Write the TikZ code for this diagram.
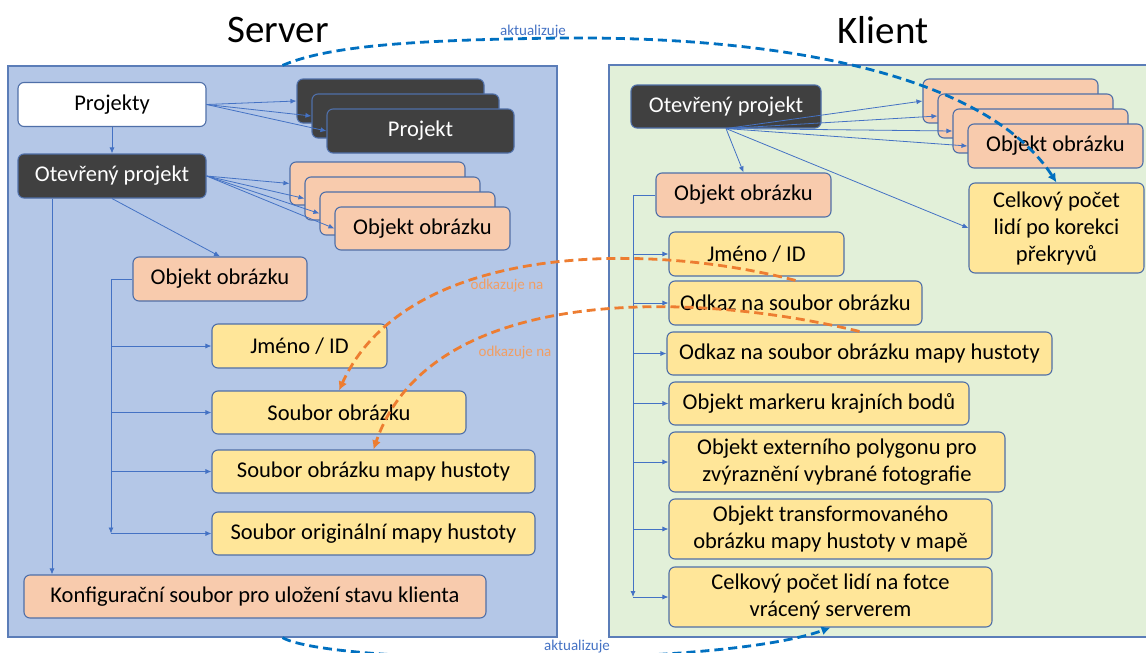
\documentclass[tikz,border=0pt]{standalone}
\usepackage{fontspec}
\setmainfont{Carlito}
\usetikzlibrary{arrows.meta}

\definecolor{srvfill}{HTML}{B4C7E7}
\definecolor{klifill}{HTML}{E2F0D9}
\definecolor{panelline}{HTML}{5B7DB8}
\definecolor{boxline}{HTML}{4F6FA8}
\definecolor{darkfill}{HTML}{404040}
\definecolor{objfill}{HTML}{F8CBAD}
\definecolor{itemfill}{HTML}{FFE699}
\definecolor{linkblue}{HTML}{4472C4}
\definecolor{updblue}{HTML}{0070C0}
\definecolor{reforange}{HTML}{ED7D31}

\tikzset{
  box/.style={draw=boxline, line width=1.1pt, rounded corners=6pt, inner sep=0pt,
    minimum height=44pt, align=center, font=\fontsize{22.5}{27}\selectfont},
  darkbox/.style={box, fill=darkfill, text=white},
  whitebox/.style={box, fill=white},
  objbox/.style={box, fill=objfill},
  itembox/.style={box, fill=itemfill},
  panel/.style={draw=panelline, line width=1.2pt, inner sep=0pt},
  title/.style={font=\fontsize{39}{44}\selectfont},
  link/.style={draw=linkblue, line width=0.8pt, -{Latex[length=6pt,width=5pt]}},
  trunk/.style={draw=linkblue, line width=0.8pt},
  updates/.style={draw=updblue, line width=2.8pt, dash pattern=on 9pt off 5pt,
    -{Latex[length=9pt,width=9pt]}},
  refers/.style={draw=reforange, line width=2.8pt, dash pattern=on 9pt off 5pt,
    -{Latex[length=9pt,width=9pt]}},
  updlabel/.style={text=linkblue, font=\fontsize{15}{17}\selectfont},
  reflabel/.style={text=reforange!75, font=\fontsize{15}{17}\selectfont},
}

\begin{document}
\begin{tikzpicture}[x=1pt, y=-1pt]
  \useasboundingbox (0,0) rectangle (1146,653);

  \node[panel, fill=srvfill, minimum width=549pt, minimum height=571pt] (srv) at (282.5,351.5) {};
  \node[panel, fill=klifill, minimum width=541pt, minimum height=572pt] (kli) at (879.5,351) {};
  \node[title] (srvtitle) at (278,30) {Server};
  \node[title] (klititle) at (883,30) {Klient};

  % server
  \node[whitebox, minimum width=188pt] (projekty) at (112,104.5) {Projekty};
  \node[darkbox, minimum width=188pt] (otevreny) at (112,176) {Otevřený projekt};
  \node[darkbox, minimum width=187pt] (projekt1) at (390.5,101) {};
  \node[darkbox, minimum width=187pt] (projekt2) at (405.5,116) {};
  \node[darkbox, minimum width=187pt] (projekt3) at (420.5,131) {Projekt};
  \node[objbox, minimum width=175pt, minimum height=43pt] (obj1) at (377.5,183.5) {};
  \node[objbox, minimum width=175pt, minimum height=43pt] (obj2) at (392.5,198.5) {};
  \node[objbox, minimum width=175pt, minimum height=43pt] (obj3) at (407.5,213.5) {};
  \node[objbox, minimum width=175pt, minimum height=43pt] (obj4) at (422.5,228.5) {Objekt obrázku};
  \node[objbox, minimum width=174pt] (objekt) at (220,279) {Objekt obrázku};
  \node[itembox, minimum width=175pt] (jmeno) at (299.5,346) {Jméno / ID};
  \node[itembox, minimum width=254pt, minimum height=43pt] (soubor) at (339,412.5) {Soubor obrázku};
  \node[itembox, minimum width=323pt, minimum height=43pt] (mapa) at (373.5,471.5) {Soubor obrázku mapy hustoty};
  \node[itembox, minimum width=323pt, minimum height=43pt] (original) at (373.5,533.5) {Soubor originální mapy hustoty};
  \node[objbox, minimum width=462pt, minimum height=43pt] (konfig) at (255,596.5) {Konfigurační soubor pro uložení stavu klienta};
  \coordinate (strunk) at (111,279);

  % klient
  \node[darkbox, minimum width=190pt, minimum height=43pt] (kotevreny) at (726,106.5) {Otevřený projekt};
  \node[objbox, minimum width=175pt] (kobj1) at (1010.5,101) {};
  \node[objbox, minimum width=175pt] (kobj2) at (1025.5,116) {};
  \node[objbox, minimum width=175pt] (kobj3) at (1040.5,131) {};
  \node[objbox, minimum width=175pt] (kobj4) at (1055.5,146) {Objekt obrázku};
  \node[objbox, minimum width=175pt] (kobjekt) at (743.5,195) {Objekt obrázku};
  \node[itembox, minimum width=175pt, minimum height=90pt] (korekce) at (1056.5,228) {Celkový počet\\lidí po korekci\\překryvů};
  \node[itembox, minimum width=175pt] (kjmeno) at (756.5,254) {Jméno / ID};
  \node[itembox, minimum width=253pt] (kodkaz) at (795.5,303) {Odkaz na soubor obrázku};
  \node[itembox, minimum width=385pt, minimum height=43pt] (kodkazmapa) at (859.5,353.5) {Odkaz na soubor obrázku mapy hustoty};
  \node[itembox, minimum width=300pt, minimum height=43pt] (kmarker) at (819,403.5) {Objekt markeru krajních bodů};
  \node[itembox, minimum width=336pt, minimum height=60pt] (kpolygon) at (837,462) {Objekt externího polygonu pro\\zvýraznění vybrané fotografie};
  \node[itembox, minimum width=323pt, minimum height=60pt] (ktransf) at (830.5,529) {Objekt transformovaného\\obrázku mapy hustoty v mapě};
  \node[itembox, minimum width=323pt, minimum height=60pt] (kfotka) at (830.5,597) {Celkový počet lidí na fotce\\vrácený serverem};
  \coordinate (ktrunk) at (633,195);

  \begin{scope}[link]
    \draw (projekty.south) -- (otevreny.north);
    \draw (projekty.east) -- (projekt1.west);
    \draw (projekty.east) -- (projekt2.west);
    \draw (projekty.east) -- (projekt3.west);
    \draw (otevreny.east) -- (obj1.west);
    \draw (otevreny.east) -- (obj2.west);
    \draw (otevreny.east) -- (obj3.west);
    \draw (otevreny.east) -- (obj4.west);
    \draw (otevreny.south) -- (objekt.north);
    \draw ([xshift=-60pt]otevreny.south) -- ([xshift=-60pt]otevreny.south |- konfig.north);
    \draw[trunk] (objekt.west) -- (strunk) -- (strunk |- original.west);
    \draw (strunk |- jmeno.west) -- (jmeno.west);
    \draw (strunk |- soubor.west) -- (soubor.west);
    \draw (strunk |- mapa.west) -- (mapa.west);
    \draw (strunk |- original.west) -- (original.west);

    \draw (kotevreny.south) -- (kobj1.west);
    \draw (kotevreny.south) -- (kobj2.west);
    \draw (kotevreny.south) -- (kobj3.west);
    \draw (kotevreny.south) -- (kobj4.west);
    \draw (kotevreny.south) -- (kobjekt.north);
    \draw (kotevreny.south) -- (korekce.west);
    \draw[trunk] (kobjekt.west) -- (ktrunk) -- (ktrunk |- kfotka.west);
    \draw (ktrunk |- kjmeno.west) -- (kjmeno.west);
    \draw (ktrunk |- kodkaz.west) -- (kodkaz.west);
    \draw (ktrunk |- kodkazmapa.west) -- (kodkazmapa.west);
    \draw (ktrunk |- kmarker.west) -- (kmarker.west);
    \draw (ktrunk |- kpolygon.west) -- (kpolygon.west);
    \draw (ktrunk |- ktransf.west) -- (ktransf.west);
    \draw (ktrunk |- kfotka.west) -- (kfotka.west);
  \end{scope}

  \draw[refers] (kodkaz.north) .. controls (640,240) and (405,245) .. (soubor.north);
  \draw[refers] (kodkazmapa.north) .. controls (690,290) and (430,285) .. (mapa.north);
  \node[reflabel] (ref1) at (507,286) {odkazuje na};
  \node[reflabel] (ref2) at (515,353) {odkazuje na};

  \draw[updates] (srv.north) .. controls (330,45) and (420,40) .. (560,38)
    .. controls (800,36) and (990,80) .. (korekce.north);
  \draw[updates] (srv.south) .. controls (330,665) and (720,668) .. (kfotka.south);
  \node[updlabel] (upd1) at (533,32) {aktualizuje};
  \node[updlabel] (upd2) at (577,647) {aktualizuje};
\end{tikzpicture}
\end{document}
